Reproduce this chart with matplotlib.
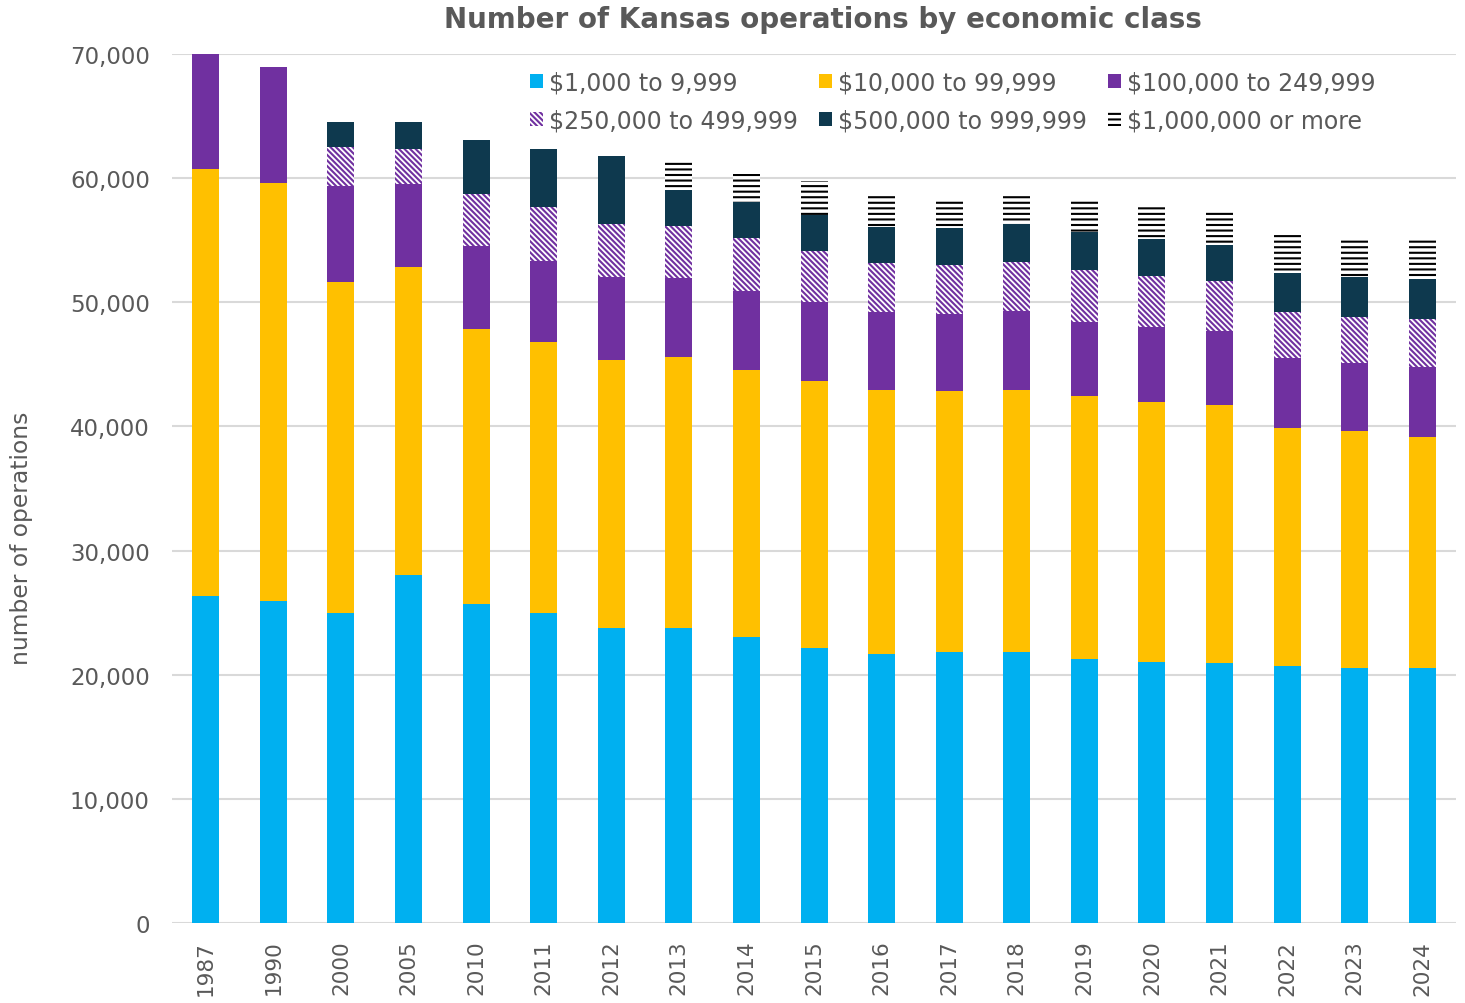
import numpy as np
import matplotlib.pyplot as plt

# ── data (number of operations by economic class) ──
years = ["1987", "1990", "2000", "2005", "2010", "2011", "2012", "2013", "2014",
         "2015", "2016", "2017", "2018", "2019", "2020", "2021", "2022", "2023", "2024"]

class_1k = [26300, 25900, 25000, 28000, 25700, 25000, 23800, 23800, 23000,
            22150, 21700, 21850, 21850, 21300, 21050, 20950, 20700, 20550, 20550]
class_10k = [34400, 33700, 26650, 24850, 22150, 21800, 21550, 21800, 21550,
             21500, 21250, 21000, 21100, 21150, 20900, 20800, 19150, 19100, 18600]
class_100k = [9300, 9350, 7700, 6700, 6700, 6500, 6700, 6350, 6400,
              6400, 6300, 6200, 6350, 6000, 6050, 5950, 5650, 5500, 5600]
class_250k = [0, 0, 3150, 2800, 4200, 4400, 4250, 4200, 4250,
              4050, 3900, 3950, 3950, 4150, 4100, 4000, 3700, 3700, 3900]
class_500k = [0, 0, 2000, 2150, 4300, 4650, 5500, 2900, 2900,
              2900, 2950, 3000, 3050, 3050, 3000, 2950, 3150, 3150, 3250]
class_1m = [0, 0, 0, 0, 0, 0, 0, 2350, 2250,
            2800, 2700, 2250, 2500, 2600, 2700, 2600, 3300, 3150, 3250]

labels = ["$1,000 to 9,999", "$10,000 to 99,999", "$100,000 to 249,999",
          "$250,000 to 499,999", "$500,000 to 999,999", "$1,000,000 or more"]

GRAY = "#595959"
BLUE = "#00B0F0"
YELLOW = "#FFC000"
PURPLE = "#7030A0"
NAVY = "#0E394E"

plt.rcParams.update({
    "font.family": "DejaVu Sans",
    "hatch.linewidth": 1.5,
})

fig = plt.figure(figsize=(14.65, 10.04), dpi=100)
ax = fig.add_axes([0.1174, 0.0797, 0.8765, 0.8655])

x = np.arange(len(years))
w = 0.4
bottom = np.zeros(len(years))

series = [class_1k, class_10k, class_100k, class_250k, class_500k, class_1m]
styles = [
    dict(color=BLUE, edgecolor="white"),
    dict(color=YELLOW, edgecolor="white"),
    dict(color=PURPLE, edgecolor="white"),
    dict(facecolor="white", edgecolor=PURPLE, hatch="\\\\\\\\\\\\"),
    dict(color=NAVY, edgecolor="white"),
    dict(facecolor="white", edgecolor="black", hatch="---"),
]

handles = []
for vals, lab, st in zip(series, labels, styles):
    v = np.array(vals, dtype=float)
    b = ax.bar(x, v, w, bottom=bottom, label=lab, linewidth=0, zorder=3, **st)
    handles.append(b)
    bottom += v

ax.set_xlim(-0.5, len(years) - 0.5)
ax.set_ylim(0, 70000)
ax.set_yticks(np.arange(0, 70001, 10000))
ax.set_yticklabels([f"{v:,}" for v in range(0, 70001, 10000)])
ax.set_xticks(x)
ax.set_xticklabels(years, rotation=90)

ax.tick_params(axis="y", length=0, pad=16, labelsize=16.5, labelcolor=GRAY)
ax.tick_params(axis="x", length=0, pad=12, labelsize=15.5, labelcolor=GRAY)

for s in ax.spines.values():
    s.set_visible(False)
ax.grid(axis="y", color="#D9D9D9", linewidth=1.5, zorder=0)
ax.set_axisbelow(True)

ax.set_ylabel("number of operations", fontsize=16.8, color=GRAY)
ax.yaxis.set_label_coords(-0.108, 0.444)

fig.suptitle("Number of Kansas operations by economic class", fontsize=20,
             fontweight="bold", color=GRAY, x=0.562, y=0.994)

# legend filled row by row (3 columns, 2 rows)
order = [0, 3, 1, 4, 2, 5]
leg = ax.legend([handles[i] for i in order], [labels[i] for i in order],
                loc="upper left", bbox_to_anchor=(0.262, 1.006), ncol=3,
                frameon=False, fontsize=17, handlelength=0.55, handleheight=0.55,
                handletextpad=0.25, columnspacing=0.9, labelspacing=0.6)
for t in leg.get_texts():
    t.set_color(GRAY)

fig.savefig("out.png", dpi=100)
